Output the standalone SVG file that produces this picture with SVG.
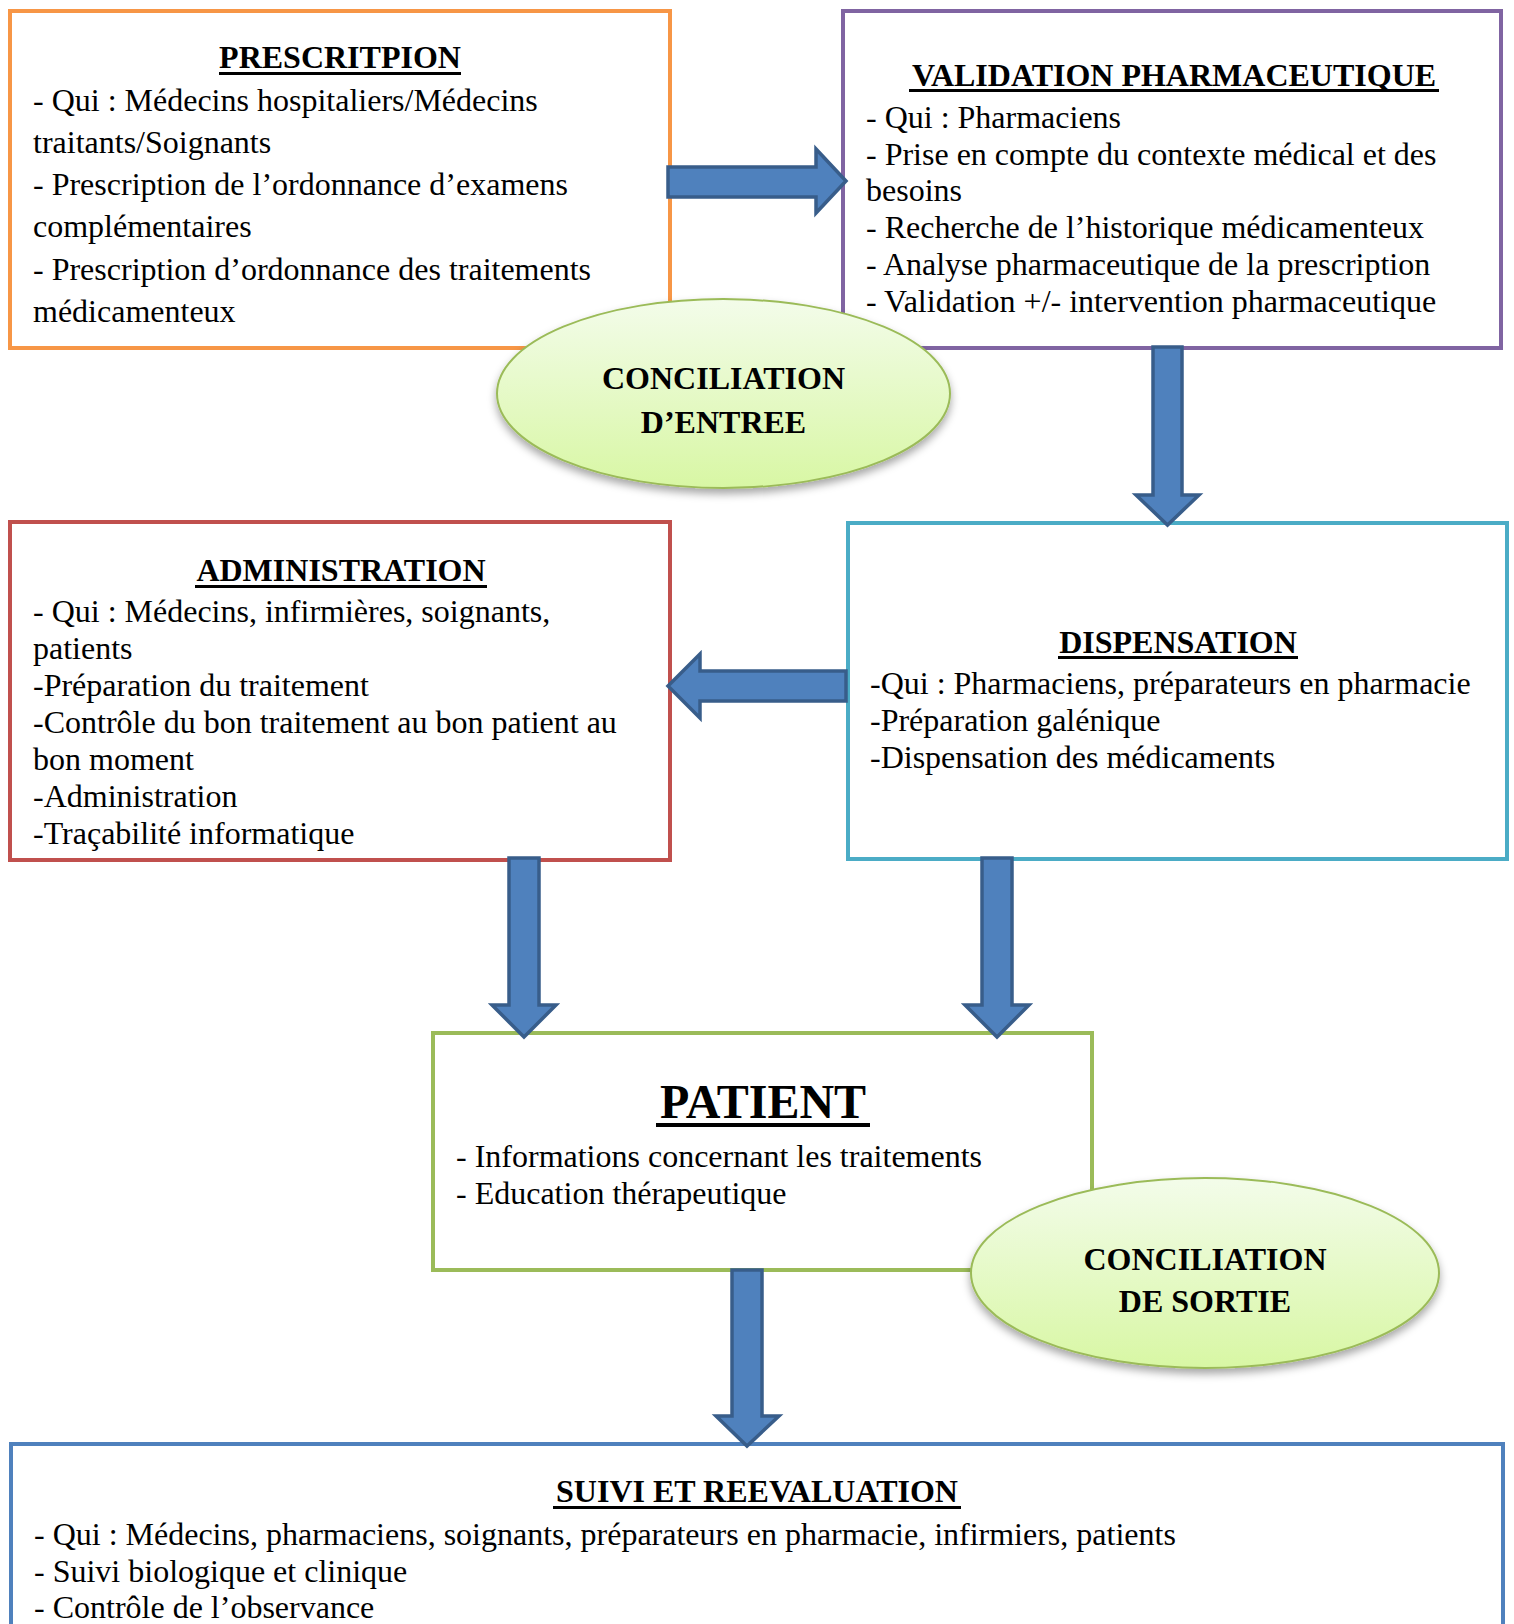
<svg xmlns="http://www.w3.org/2000/svg" width="1514" height="1624" viewBox="0 0 1514 1624">
<style>
.box{fill:#ffffff;stroke-width:4}
.t{font-family:"Liberation Serif","Times New Roman",serif;font-size:32px;fill:#000}
.h{font-family:"Liberation Serif","Times New Roman",serif;font-size:32px;font-weight:bold;fill:#000;text-anchor:middle}
.ul{stroke:#000;stroke-width:3}
.arr{fill:#4F81BD;stroke:#385D8A;stroke-width:3.5;stroke-linejoin:miter}
.ell{fill:url(#eg);stroke:#9BBB59;stroke-width:2;filter:url(#sh)}
</style>
<defs>
<linearGradient id="eg" x1="0" y1="0" x2="0" y2="1">
<stop offset="0" stop-color="#F3FCEA"/>
<stop offset="1" stop-color="#D8F7A4"/>
</linearGradient>
<filter id="sh" x="-10%" y="-10%" width="120%" height="130%">
<feDropShadow dx="0" dy="5" stdDeviation="4" flood-color="#000" flood-opacity="0.35"/>
</filter>
</defs>
<rect width="1514" height="1624" fill="#ffffff"/>

<g id="prescription">
<rect class="box" x="10" y="11" width="660" height="337" stroke="#F79646"/>
<text class="h" x="340" y="68">PRESCRITPION</text>
<line class="ul" x1="219" y1="73.5" x2="461" y2="73.5"/>
<text class="t" x="33" y="111">- Qui : Médecins hospitaliers/Médecins</text>
<text class="t" x="33" y="153">traitants/Soignants</text>
<text class="t" x="33" y="195">- Prescription de l’ordonnance d’examens</text>
<text class="t" x="33" y="237">complémentaires</text>
<text class="t" x="33" y="280">- Prescription d’ordonnance des traitements</text>
<text class="t" x="33" y="322">médicamenteux</text>
</g>

<g id="validation">
<rect class="box" x="843" y="11" width="658" height="337" stroke="#8064A2"/>
<text class="h" x="1174" y="86">VALIDATION PHARMACEUTIQUE</text>
<line class="ul" x1="909" y1="90.5" x2="1439" y2="90.5"/>
<text class="t" x="866" y="128">- Qui : Pharmaciens</text>
<text class="t" x="866" y="165">- Prise en compte du contexte médical et des</text>
<text class="t" x="866" y="201">besoins</text>
<text class="t" x="866" y="238">- Recherche de l’historique médicamenteux</text>
<text class="t" x="866" y="275">- Analyse pharmaceutique de la prescription</text>
<text class="t" x="866" y="312">- Validation +/- intervention pharmaceutique</text>
</g>

<g id="administration">
<rect class="box" x="10" y="522" width="660" height="338" stroke="#C0504D"/>
<text class="h" x="341" y="581">ADMINISTRATION</text>
<line class="ul" x1="195" y1="586.5" x2="487" y2="586.5"/>
<text class="t" x="33" y="622">- Qui : Médecins, infirmières, soignants,</text>
<text class="t" x="33" y="659">patients</text>
<text class="t" x="33" y="696">-Préparation du traitement</text>
<text class="t" x="33" y="733">-Contrôle du bon traitement au bon patient au</text>
<text class="t" x="33" y="770">bon moment</text>
<text class="t" x="33" y="807">-Administration</text>
<text class="t" x="33" y="844">-Traçabilité informatique</text>
</g>

<g id="dispensation">
<rect class="box" x="848" y="523" width="659" height="336" stroke="#4BACC6"/>
<text class="h" x="1178" y="653">DISPENSATION</text>
<line class="ul" x1="1058" y1="657.5" x2="1298" y2="657.5"/>
<text class="t" x="870" y="694">-Qui : Pharmaciens, préparateurs en pharmacie</text>
<text class="t" x="870" y="731">-Préparation galénique</text>
<text class="t" x="870" y="768">-Dispensation des médicaments</text>
</g>

<g id="patient">
<rect class="box" x="433" y="1033" width="659" height="237" stroke="#9BBB59"/>
<text class="h" x="763" y="1118" style="font-size:48px">PATIENT</text>
<line class="ul" x1="656" y1="1125" x2="870" y2="1125" style="stroke-width:4"/>
<text class="t" x="456" y="1167">- Informations concernant les traitements</text>
<text class="t" x="456" y="1204">- Education thérapeutique</text>
</g>

<g id="suivi">
<rect class="box" x="11" y="1444" width="1492" height="200" stroke="#4F81BD"/>
<text class="h" x="757" y="1502">SUIVI ET REEVALUATION</text>
<line class="ul" x1="553" y1="1507.5" x2="961" y2="1507.5"/>
<text class="t" x="34" y="1545">- Qui : Médecins, pharmaciens, soignants, préparateurs en pharmacie, infirmiers, patients</text>
<text class="t" x="34" y="1582">- Suivi biologique et clinique</text>
<text class="t" x="34" y="1618">- Contrôle de l’observance</text>
</g>

<g id="connectors">
<path class="arr" d="M668,167 H816 V149 L846,181 L816,213 V197 H668 Z"/>
<path class="arr" d="M1153,347 V495 H1136 L1167.5,525 L1199,495 H1182 V347 Z"/>
<path class="arr" d="M846,671 H700 V654 L668,686 L700,718 V701 H846 Z"/>
<path class="arr" d="M509,858 V1005 H492 L524,1037 L556,1005 H539 V858 Z"/>
<path class="arr" d="M982,858 V1005 H965 L997,1037 L1029,1005 H1012 V858 Z"/>
<path class="arr" d="M732,1270 V1416 H716 L747,1446 L779,1416 H762 V1270 Z"/>
</g>

<g id="conciliation-entree">
<ellipse class="ell" cx="723.5" cy="393.5" rx="226.5" ry="94.5"/>
<text class="h" x="723.5" y="389">CONCILIATION</text>
<text class="h" x="723.5" y="433">D’ENTREE</text>
</g>

<g id="conciliation-sortie">
<ellipse class="ell" cx="1205" cy="1273" rx="234" ry="95"/>
<text class="h" x="1205" y="1270">CONCILIATION</text>
<text class="h" x="1205" y="1312">DE SORTIE</text>
</g>
</svg>
